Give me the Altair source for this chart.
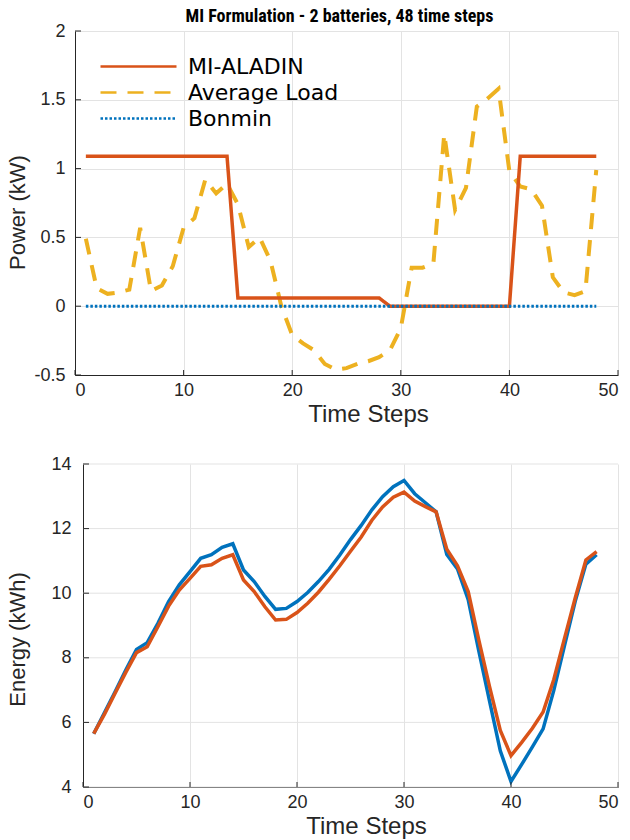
import altair as alt
import pandas as pd

steps = list(range(1, 49))

mi_power = [1.09, 1.09, 1.09, 1.09, 1.09, 1.09, 1.09, 1.09, 1.09, 1.09, 1.09, 1.09, 1.09, 1.09,
            0.06, 0.06, 0.06, 0.06, 0.06, 0.06, 0.06, 0.06, 0.06, 0.06, 0.06, 0.06, 0.06, 0.06,
            0, 0, 0, 0, 0, 0, 0, 0, 0, 0, 0, 0,
            1.09, 1.09, 1.09, 1.09, 1.09, 1.09, 1.09, 1.09]
avg_load = [0.49, 0.13, 0.09, 0.10, 0.12, 0.57, 0.11, 0.15, 0.29, 0.57,
            0.64, 0.92, 0.82, 0.89, 0.74, 0.43, 0.50, 0.33, 0.00, -0.21,
            -0.27, -0.32, -0.42, -0.46, -0.45, -0.42, -0.40, -0.37, -0.32, -0.16,
            0.28, 0.28, 0.31, 1.25, 0.70, 0.86, 1.45, 1.51, 1.58, 0.98,
            0.87, 0.85, 0.73, 0.21, 0.10, 0.08, 0.11, 0.99]
bonmin_power = [0, 0, 0, 0, 0, 0, 0, 0, 0, 0, 0, 0, 0, 0, 0, 0, 0, 0, 0, 0, 0, 0, 0, 0,
                0, 0, 0, 0, 0, 0, 0, 0, 0, 0, 0, 0, 0, 0, 0, 0, 0, 0, 0, 0, 0, 0, 0, 0]

mi_energy = [5.65, 6.25, 6.9, 7.55, 8.16, 8.34, 8.96, 9.6, 10.1, 10.46,
             10.83, 10.88, 11.08, 11.19, 10.41, 10.05, 9.58, 9.17, 9.19, 9.4,
             9.69, 10.03, 10.43, 10.85, 11.3, 11.74, 12.26, 12.67, 12.97, 13.13,
             12.85, 12.68, 12.52, 11.36, 10.85, 10.05, 8.54, 7.1, 5.75, 4.97,
             5.38, 5.82, 6.32, 7.33, 8.6, 9.85, 11.03, 11.29]
bonmin_energy = [5.65, 6.3, 6.95, 7.62, 8.26, 8.47, 9.07, 9.74, 10.26, 10.67,
                 11.08, 11.19, 11.42, 11.53, 10.72, 10.36, 9.9, 9.5, 9.53, 9.74,
                 10.02, 10.36, 10.74, 11.18, 11.66, 12.1, 12.58, 12.99, 13.3, 13.49,
                 13.08, 12.8, 12.52, 11.2, 10.75, 9.8, 8.2, 6.65, 5.12, 4.17,
                 4.7, 5.24, 5.8, 6.99, 8.38, 9.75, 10.9, 11.19]

series_names = ["MI-ALADIN", "Average Load", "Bonmin"]
series_colors = ["#D95319", "#EDB120", "#0072BD"]
series_dashes = [[1, 0], [16, 11], [2.5, 2]]

x_ticks = [0, 10, 20, 30, 40, 50]
power_ticks = [-0.5, 0, 0.5, 1, 1.5, 2]
energy_ticks = [4, 6, 8, 10, 12, 14]

W = 543            # both panels share the same group width
TOP_H = 344
BOT_H = 323
BOT_INSET = 8      # the lower plot area starts 8 px to the right of the upper one
AXIS_COLOR = "#262626"
GRID_COLOR = "#e3e3e3"
LABEL_FONT = "Liberation Sans"
NARROW = ("'Roboto Condensed', 'Liberation Sans Narrow', 'Arial Narrow', "
          "'DejaVu Sans Condensed', 'Liberation Sans', sans-serif")

x_scale_top = alt.Scale(domain=[0, 50], nice=False, zero=False)
x_scale_bot = alt.Scale(domain=[0, 50], nice=False, zero=False, range=[BOT_INSET, W])
p_scale = alt.Scale(domain=[-0.5, 2], nice=False, zero=False)
e_scale = alt.Scale(domain=[4, 14], nice=False, zero=False)

legend = alt.Legend(
    title=None, orient="none", legendX=24, legendY=24, padding=0,
    symbolType="M-1,0H6.6", symbolSize=400, symbolStrokeWidth=2.5,
    labelFont="DejaVu Sans", labelFontSize=22, labelColor="black",
    labelOffset=66, rowPadding=3,
)
color_enc = alt.Color("s:N", scale=alt.Scale(domain=series_names, range=series_colors),
                      legend=legend)
dash_enc = alt.StrokeDash("s:N", scale=alt.Scale(domain=series_names, range=series_dashes),
                          legend=legend)

x_axis_top = alt.Axis(values=x_ticks, title="Time Steps", labelPadding=6, titlePadding=3,
                      titleFontSize=24, grid=True, titleX=293)
y_axis_top = alt.Axis(values=power_ticks, title="Power (kW)", labelExpr="datum.value",
                      labelPadding=10, titleX=-46, titleY=181, grid=True)


def power_layer(values, name, width):
    df = pd.DataFrame({"t": steps, "v": values, "s": name})
    return alt.Chart(df).mark_line(strokeWidth=width, clip=True).encode(
        x=alt.X("t:Q", scale=x_scale_top, axis=x_axis_top),
        y=alt.Y("v:Q", scale=p_scale, axis=y_axis_top),
        color=color_enc,
        strokeDash=dash_enc,
    )


top_xtick_marks = alt.Chart(pd.DataFrame({"t": x_ticks})).mark_rule(
    color=AXIS_COLOR, strokeWidth=1).encode(
    x=alt.X("t:Q", scale=x_scale_top, axis=x_axis_top),
    y=alt.value(TOP_H), y2=alt.value(TOP_H - 5))
top_ytick_marks = alt.Chart(pd.DataFrame({"v": power_ticks})).mark_rule(
    color=AXIS_COLOR, strokeWidth=1).encode(
    y=alt.Y("v:Q", scale=p_scale, axis=y_axis_top),
    x=alt.value(0), x2=alt.value(6))

top = alt.layer(
    power_layer(avg_load, "Average Load", 4),
    power_layer(mi_power, "MI-ALADIN", 3.5),
    power_layer(bonmin_power, "Bonmin", 3),
    top_xtick_marks,
    top_ytick_marks,
).properties(
    width=W, height=TOP_H,
    title=alt.TitleParams(
        "MI Formulation - 2 batteries, 48 time steps",
        font=NARROW, fontSize=18, fontWeight="bold", color="black",
        anchor="middle", offset=-4, dx=-7,
    ),
)

x_axis_bot = alt.Axis(values=x_ticks, title="Time Steps", labelPadding=6, titlePadding=3,
                      titleFontSize=24, grid=True, titleX=291)
y_axis_bot = alt.Axis(values=energy_ticks, title="Energy (kWh)", labelPadding=12,
                      titleX=-54, titleY=175, grid=False, offset=-BOT_INSET)


def energy_layer(values, color):
    df = pd.DataFrame({"t": steps, "v": values})
    return alt.Chart(df).mark_line(strokeWidth=3.5, color=color, clip=True).encode(
        x=alt.X("t:Q", scale=x_scale_bot, axis=x_axis_bot),
        y=alt.Y("v:Q", scale=e_scale, axis=y_axis_bot),
    )


bot_ygrid = alt.Chart(pd.DataFrame({"v": energy_ticks})).mark_rule(
    color=GRID_COLOR, strokeWidth=1).encode(
    y=alt.Y("v:Q", scale=e_scale, axis=y_axis_bot),
    x=alt.value(BOT_INSET), x2=alt.value(W))
bot_xtick_marks = alt.Chart(pd.DataFrame({"t": x_ticks})).mark_rule(
    color=AXIS_COLOR, strokeWidth=1).encode(
    x=alt.X("t:Q", scale=x_scale_bot, axis=x_axis_bot),
    y=alt.value(BOT_H), y2=alt.value(BOT_H - 5))
bot_ytick_marks = alt.Chart(pd.DataFrame({"v": energy_ticks})).mark_rule(
    color=AXIS_COLOR, strokeWidth=1).encode(
    y=alt.Y("v:Q", scale=e_scale, axis=y_axis_bot),
    x=alt.value(BOT_INSET), x2=alt.value(BOT_INSET + 6))

bottom = alt.layer(
    bot_ygrid,
    energy_layer(bonmin_energy, "#0072BD"),
    energy_layer(mi_energy, "#D95319"),
    bot_xtick_marks,
    bot_ytick_marks,
).properties(width=W, height=BOT_H)

chart = alt.vconcat(top, bottom, spacing=29).properties(
    padding={"left": 6, "top": 8, "right": 5, "bottom": 2},
    background="white",
).configure_view(stroke=None).configure_axis(
    labelFont=LABEL_FONT, labelFontSize=18, labelColor=AXIS_COLOR,
    titleFont="Liberation Sans", titleFontSize=22, titleFontWeight="normal",
    titleColor=AXIS_COLOR, tickSize=0, domainColor=AXIS_COLOR, domainWidth=1,
    gridColor=GRID_COLOR, gridWidth=1, gridOpacity=1,
)

chart.save("out.html", embed_options={"renderer": "svg", "actions": False})
